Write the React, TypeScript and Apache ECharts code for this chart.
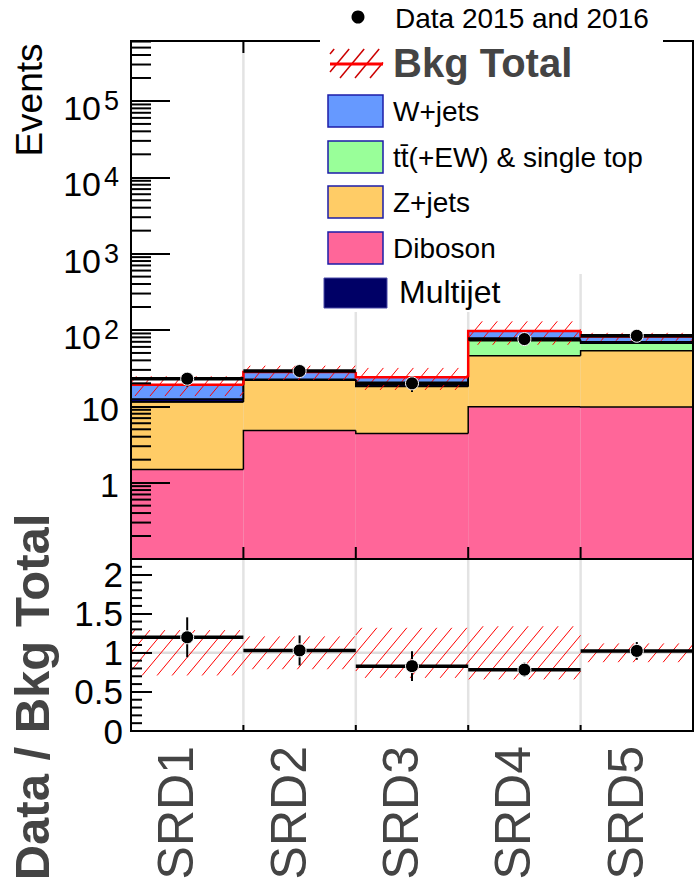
import React, { useEffect, useRef } from "react";
import * as echarts from "echarts";

// ---------------- data ----------------
const categories = ["SRD1", "SRD2", "SRD3", "SRD4", "SRD5"];
const diboson = [1.49, 4.83, 4.41, 9.9, 9.8];
const zJets = [9.9, 17.2, 13.8, 36.1, 43.8];
const ttbarSingleTop = [0.1, 0.1, 0.1, 26.5, 13.4];
const multijet = [1.0, 0.5, 1.0, 2.0, 3.3];
const wJets = [6.7, 5.5, 4.8, 22.4, 11.7];
const dataObserved = [23, 29, 20, 76, 84];
const dataError = [4.9, 5.4, 4.6, 8.7, 9.3];
const bkgRelUncertainty = [0.29, 0.21, 0.32, 0.34, 0.12];
const ratioTickLabels = ["0", "0.5", "1", "1.5", "2"];

const Y_MIN = 0.1;
const Y_MAX = 6.1e5;
const R_MIN = 0;
const R_MAX = 2.2;

const FONT = "'Liberation Sans', Arial, Helvetica, sans-serif";
const n = categories.length;

const layers = [
  { name: "Diboson", values: diboson, color: "#ff6699" },
  { name: "Z+jets", values: zJets, color: "#ffcc66" },
  { name: "ttbar", values: ttbarSingleTop, color: "#99ff99" },
  { name: "Multijet", values: multijet, color: "#000066" },
  { name: "W+jets", values: wJets, color: "#6699ff" },
];

function hatch(x0: number, x1: number, yTop: number, yBot: number, step: number, k: number, color: string, lw: number, z?: number) {
  const out: any[] = [];
  const cStart = Math.ceil((x0 + yTop / k) / step) * step;
  for (let c = cStart; c <= x1 + yBot / k; c += step) {
    const xa = Math.max(x0, c - yBot / k);
    const xb = Math.min(x1, c - yTop / k);
    if (xb - xa > 0.3) {
      const el: any = {
        type: "line",
        shape: { x1: xa, y1: k * (c - xa), x2: xb, y2: k * (c - xb) },
        style: { stroke: color, lineWidth: lw },
      };
      if (z !== undefined) el.z = z;
      out.push(el);
    }
  }
  return out;
}

function buildOption() {
  const totals = categories.map((_, i) => layers.reduce((s, l) => s + l.values[i], 0));

  const stackRects: number[][] = [];
  const stackEdges: number[][] = [];
  const running = categories.map(() => 0);
  layers.forEach((l, li) => {
    const tops = categories.map((_, i) => running[i] + l.values[i]);
    categories.forEach((_, i) => {
      stackRects.push([i, Math.max(running[i], Y_MIN), tops[i], li]);
      stackEdges.push([i, tops[i], i === 0 ? tops[i] : tops[i - 1], li]);
    });
    tops.forEach((t, i) => (running[i] = t));
  });

  const totalLine = categories.map((_, i) => [i, totals[i], i === 0 ? totals[i] : totals[i - 1]]);
  const bandTop = categories.map((_, i) => [i, totals[i] * (1 - bkgRelUncertainty[i]), totals[i] * (1 + bkgRelUncertainty[i])]);
  const bandRatio = categories.map((_, i) => [i, 1 - bkgRelUncertainty[i], 1 + bkgRelUncertainty[i]]);
  const dataTop = categories.map((_, i) => [i, dataObserved[i], dataObserved[i] - dataError[i], dataObserved[i] + dataError[i]]);
  const dataRatio = categories.map((_, i) => [
    i,
    dataObserved[i] / totals[i],
    (dataObserved[i] - dataError[i]) / totals[i],
    (dataObserved[i] + dataError[i]) / totals[i],
  ]);

  const minorTop: number[][] = [];
  for (let k = -1; k <= 5; k++) {
    for (let m = 2; m <= 9; m++) {
      const v = m * Math.pow(10, k);
      if (v < Y_MAX) minorTop.push([0, v]);
    }
  }
  const minorRatio: number[][] = [];
  for (let j = 1; j <= 21; j++) {
    if (j % 5 !== 0) minorRatio.push([0, j / 10]);
  }
  const boundaries = [1, 2, 3, 4].map((b) => [b, 1]);

  const rectRender = (params: any, api: any) => {
    const cs = params.coordSys;
    const w = cs.width / n;
    const i = api.value(0);
    const pLo = api.coord([i, api.value(1)]);
    const pHi = api.coord([i, api.value(2)]);
    const x0 = pLo[0] - w / 2;
    return {
      type: "rect",
      shape: { x: x0, y: pHi[1], width: w, height: pLo[1] - pHi[1] },
      style: { fill: layers[api.value(3)].color },
    };
  };

  const stepRender = (color: string, lw: number) => (params: any, api: any) => {
    const cs = params.coordSys;
    const w = cs.width / n;
    const i = api.value(0);
    const p = api.coord([i, api.value(1)]);
    const pPrev = api.coord([i, api.value(2)]);
    const x0 = p[0] - w / 2;
    return {
      type: "polyline",
      shape: { points: [[x0, pPrev[1]], [x0, p[1]], [x0 + w, p[1]]] },
      style: { stroke: color, lineWidth: lw, fill: "none" },
    };
  };

  const hatchRender = (params: any, api: any) => {
    const cs = params.coordSys;
    const w = cs.width / n;
    const i = api.value(0);
    const pLo = api.coord([i, api.value(1)]);
    const pHi = api.coord([i, api.value(2)]);
    const x0 = pLo[0] - w / 2;
    const yTop = Math.max(pHi[1], cs.y);
    const yBot = Math.min(pLo[1], cs.y + cs.height);
    return { type: "group", children: hatch(x0, x0 + w, yTop, yBot, 15, 1.2, "#ff0000", 1) };
  };

  const dataRender = (params: any, api: any) => {
    const cs = params.coordSys;
    const w = cs.width / n;
    const i = api.value(0);
    const p = api.coord([i, api.value(1)]);
    const pLo = api.coord([i, api.value(2)]);
    const pHi = api.coord([i, api.value(3)]);
    const x0 = p[0] - w / 2;
    return {
      type: "group",
      children: [
        { type: "line", shape: { x1: x0, y1: p[1], x2: x0 + w, y2: p[1] }, style: { stroke: "#000", lineWidth: 3.5 } },
        { type: "line", shape: { x1: p[0], y1: pHi[1], x2: p[0], y2: pLo[1] }, style: { stroke: "#000", lineWidth: 2 } },
        { type: "circle", shape: { cx: p[0], cy: p[1], r: 6.5 }, style: { fill: "#000", stroke: "#fff", lineWidth: 1 } },
      ],
    };
  };

  const gridLineRender = (params: any, api: any) => {
    const cs = params.coordSys;
    const w = cs.width / n;
    const x = api.coord([api.value(0), api.value(1)])[0] - w / 2;
    return {
      type: "line",
      shape: { x1: x, y1: cs.y, x2: x, y2: cs.y + cs.height },
      style: { stroke: "#e3e3e3", lineWidth: 2.5 },
    };
  };

  const boundaryTickRender = (topLen: number, botLen: number) => (params: any, api: any) => {
    const cs = params.coordSys;
    const w = cs.width / n;
    const x = api.coord([api.value(0), api.value(1)])[0] - w / 2;
    const children: any[] = [];
    if (topLen > 0)
      children.push({ type: "line", shape: { x1: x, y1: cs.y, x2: x, y2: cs.y + topLen }, style: { stroke: "#000", lineWidth: 2 } });
    if (botLen > 0)
      children.push({
        type: "line",
        shape: { x1: x, y1: cs.y + cs.height, x2: x, y2: cs.y + cs.height - botLen },
        style: { stroke: "#000", lineWidth: 2 },
      });
    return { type: "group", children };
  };

  const minorTickRender = (len: number) => (params: any, api: any) => {
    const cs = params.coordSys;
    const y = api.coord([0, api.value(1)])[1];
    return { type: "line", shape: { x1: cs.x, y1: y, x2: cs.x + len, y2: y }, style: { stroke: "#000", lineWidth: 2 } };
  };

  const hLineRender = (params: any, api: any) => {
    const cs = params.coordSys;
    const y = api.coord([0, api.value(1)])[1];
    return { type: "line", shape: { x1: cs.x, y1: y, x2: cs.x + cs.width, y2: y }, style: { stroke: "#dddddd", lineWidth: 2.5 } };
  };

  const frameRender = (params: any) => {
    const cs = params.coordSys;
    return {
      type: "rect",
      shape: { x: cs.x, y: cs.y, width: cs.width, height: cs.height },
      style: { fill: "none", stroke: "#000", lineWidth: 2 },
    };
  };

  const cs = (xi: number, extra: any) => ({
    type: "custom",
    xAxisIndex: xi,
    yAxisIndex: xi,
    silent: true,
    ...extra,
  });

  // ---------- legend graphics ----------
  const legendBoxes = [
    { label: "W+jets", color: "#6699ff", y: 95 },
    { label: "t\u0074\u0304(+EW) & single top", color: "#99ff99", y: 141 },
    { label: "Z+jets", color: "#ffcc66", y: 186 },
    { label: "Diboson", color: "#ff6699", y: 232 },
  ];
  const graphic: any[] = [
    { type: "rect", z: 100, shape: { x: 320, y: 0, width: 343, height: 274 }, style: { fill: "#fff" } },
    { type: "rect", z: 100, shape: { x: 320, y: 274, width: 200, height: 38 }, style: { fill: "#fff" } },
    { type: "circle", z: 101, shape: { cx: 358, cy: 17, r: 6.5 }, style: { fill: "#000" } },
    {
      type: "text", z: 101, x: 395, y: 18,
      style: { text: "Data 2015 and 2016", fontSize: 28, fontFamily: FONT, fill: "#000", align: "left", verticalAlign: "middle" },
    },
    ...hatch(330, 383, 49, 78, 15, 1.2, "#cc0000", 1.5, 101),
    { type: "line", z: 102, shape: { x1: 330, y1: 64, x2: 383, y2: 64 }, style: { stroke: "#ff0000", lineWidth: 3 } },
    {
      type: "text", z: 101, x: 393, y: 63,
      style: { text: "Bkg Total", fontSize: 40, fontWeight: "bold", fontFamily: FONT, fill: "#444", align: "left", verticalAlign: "middle" },
    },
    ...legendBoxes.flatMap((b) => [
      { type: "rect", z: 101, shape: { x: 328, y: b.y, width: 55, height: 32 }, style: { fill: b.color, stroke: "#1c1ca8", lineWidth: 1.5 } },
      {
        type: "text", z: 101, x: 393, y: b.y + 16,
        style: { text: b.label, fontSize: 28, fontFamily: FONT, fill: "#000", align: "left", verticalAlign: "middle" },
      },
    ]),
    { type: "rect", z: 101, shape: { x: 324, y: 278, width: 63, height: 30 }, style: { fill: "#000066", stroke: "#4a4aa8", lineWidth: 1 } },
    {
      type: "text", z: 101, x: 399, y: 292,
      style: { text: "Multijet", fontSize: 32, fontFamily: FONT, fill: "#000", align: "left", verticalAlign: "middle" },
    },
    {
      type: "text", z: 101, x: 29, y: 100, rotation: Math.PI / 2,
      style: { text: "Events", fontSize: 37, fontFamily: FONT, fill: "#000", align: "center", verticalAlign: "middle" },
    },
    {
      type: "text", z: 101, x: 32, y: 697, rotation: Math.PI / 2,
      style: { text: "Data / Bkg Total", fontSize: 49, fontWeight: "bold", fontFamily: FONT, fill: "#444", align: "center", verticalAlign: "middle" },
    },
  ];

  return {
    animation: false,
    backgroundColor: "#fff",
    grid: [
      { left: 131, top: 41, width: 562, height: 518 },
      { left: 131, top: 559, width: 562, height: 172 },
    ],
    xAxis: [
      { gridIndex: 0, type: "category", data: categories, axisLine: { show: false }, axisTick: { show: false }, axisLabel: { show: false }, splitLine: { show: false } },
      {
        gridIndex: 1, type: "category", data: categories,
        axisLine: { show: false }, axisTick: { show: false }, splitLine: { show: false },
        axisLabel: {
          interval: 0, rotate: 90, margin: 15,
          formatter: (v: string) => "{a|" + v + "}\n{g| }",
          rich: {
            a: { fontSize: 50, lineHeight: 52, fontFamily: FONT, color: "#444" },
            g: { fontSize: 10, lineHeight: 22, fontFamily: FONT, color: "#444" },
          },
        },
      },
    ],
    yAxis: [
      {
        gridIndex: 0, type: "log", logBase: 10, min: Y_MIN, max: Y_MAX, z: 10,
        axisLine: { show: false }, splitLine: { show: false },
        axisTick: { show: true, inside: true, length: 39, lineStyle: { color: "#000", width: 2 } },
        axisLabel: {
          margin: 12,
          formatter: (v: number) => {
            const lg = Math.log10(v);
            const k = Math.round(lg);
            if (Math.abs(lg - k) > 0.01 || k < 0) return "";
            if (k === 0) return "{p|1}";
            if (k === 1) return "{p|10}";
            return "{b|10}{s|" + k + "}";
          },
          rich: {
            b: { fontSize: 34, lineHeight: 34, verticalAlign: "bottom", fontFamily: FONT, color: "#000" },
            s: { fontSize: 27, lineHeight: 48, verticalAlign: "middle", fontFamily: FONT, color: "#000", padding: [0, 0, 0, 3] },
            p: { fontSize: 34, lineHeight: 34, fontFamily: FONT, color: "#000", padding: [5, 0, 0, 0] },
          },
        },
      },
      {
        gridIndex: 1, type: "value", min: R_MIN, max: R_MAX, interval: 0.5, z: 10,
        axisLine: { show: false }, splitLine: { show: false },
        axisTick: { show: true, inside: true, length: 21, lineStyle: { color: "#000", width: 2 } },
        axisLabel: {
          margin: 8, fontSize: 35, fontFamily: FONT, color: "#000",
          formatter: (v: number) => {
            const idx = Math.round(v / 0.5);
            if (Math.abs(v - idx * 0.5) > 1e-6 || idx < 0 || idx >= ratioTickLabels.length) return "";
            return ratioTickLabels[idx];
          },
        },
      },
    ],
    series: [
      cs(0, { z: 1, data: boundaries, renderItem: gridLineRender }),
      cs(1, { z: 1, data: boundaries, renderItem: gridLineRender }),
      cs(1, { z: 1, data: [[0, 1]], renderItem: hLineRender }),
      cs(0, { z: 2, data: stackRects, renderItem: rectRender }),
      cs(0, { z: 3, data: stackEdges, renderItem: stepRender("#000", 1.5) }),
      cs(0, { z: 4, data: bandTop, renderItem: hatchRender }),
      cs(1, { z: 4, data: bandRatio, renderItem: hatchRender }),
      cs(0, { z: 5, data: totalLine, renderItem: stepRender("#ff0000", 2.5) }),
      cs(0, { z: 6, data: dataTop, renderItem: dataRender }),
      cs(1, { z: 6, data: dataRatio, renderItem: dataRender }),
      cs(0, { z: 7, data: minorTop, renderItem: minorTickRender(20) }),
      cs(1, { z: 7, data: minorRatio, renderItem: minorTickRender(11) }),
      cs(0, { z: 7, data: boundaries, renderItem: boundaryTickRender(12, 12) }),
      cs(1, { z: 7, data: boundaries, renderItem: boundaryTickRender(0, 6) }),
      cs(0, { z: 8, data: [[0, 1]], renderItem: frameRender }),
      cs(1, { z: 8, data: [[0, 1]], renderItem: frameRender }),
    ],
    graphic,
  };
}

export default function App() {
  const ref = useRef<HTMLDivElement>(null);
  useEffect(() => {
    if (!ref.current) return;
    const chart = echarts.init(ref.current, null, { renderer: "svg" });
    chart.setOption(buildOption() as any);
    return () => chart.dispose();
  }, []);
  return (
    <div
      ref={ref}
      style={{ position: "fixed", left: 0, top: 0, width: 696, height: 890, background: "#fff" }}
    />
  );
}
